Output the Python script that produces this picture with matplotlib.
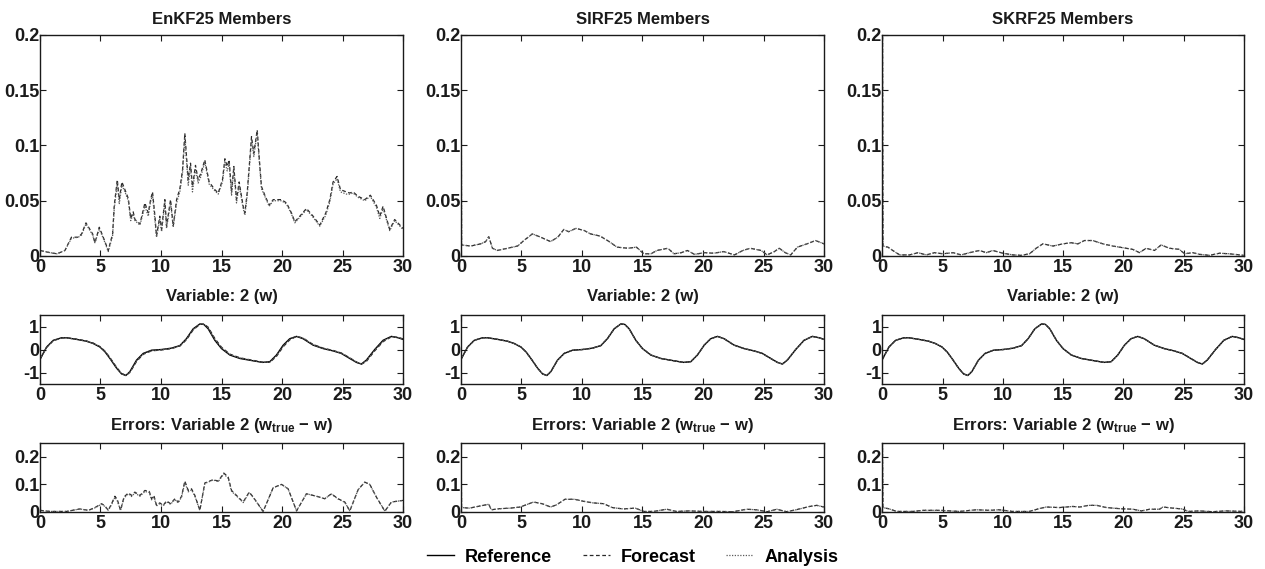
import matplotlib
matplotlib.use('Agg')
import matplotlib.pyplot as plt
from matplotlib.ticker import FormatStrFormatter

plt.rcParams['font.family'] = ['Liberation Sans', 'DejaVu Sans']
plt.rcParams['font.weight'] = 'bold'
plt.rcParams['mathtext.fontset'] = 'custom'
plt.rcParams['mathtext.rm'] = 'Liberation Sans:bold'
plt.rcParams['mathtext.bf'] = 'Liberation Sans:bold'
plt.rcParams['mathtext.default'] = 'rm'

# ---- top row: ensemble members (spread) ----
enkf_t = [0, 0.83, 1.4, 2.06, 2.6, 3.17, 3.44, 3.8, 4.35, 4.54, 4.9, 5.12, 5.37, 5.64,
          6.0, 6.14, 6.39, 6.55, 6.77, 7.02, 7.3, 7.5, 7.7, 7.85, 8.26, 8.67, 8.95,
          9.14, 9.3, 9.5, 9.63, 9.9, 10.05, 10.32, 10.46, 10.79, 11.01, 11.29, 11.56,
          11.78, 11.97, 12.25, 12.44, 12.6, 12.85, 13.07, 13.3, 13.62, 13.98, 14.45,
          14.73, 15.08, 15.28, 15.47, 15.63, 15.83, 16.02, 16.24, 16.46, 16.79, 16.93,
          17.12, 17.29, 17.48, 17.67, 17.95, 18.11, 18.3, 18.58, 18.94, 19.27, 19.96,
          20.37, 20.78, 21.06, 21.47, 22.02, 22.57, 23.12, 23.62, 23.95, 24.22, 24.55,
          24.83, 25.32, 25.6, 25.87, 26.29, 26.84, 27.3, 27.8, 28.08, 28.35, 28.9,
          29.31, 30]
enkf_fc = [0.005, 0.003, 0.002, 0.005, 0.017, 0.017, 0.020, 0.030, 0.020, 0.012, 0.026,
           0.020, 0.013, 0.005, 0.020, 0.046, 0.069, 0.051, 0.067, 0.060, 0.052, 0.034,
           0.040, 0.033, 0.029, 0.048, 0.039, 0.051, 0.058, 0.036, 0.018, 0.036, 0.024,
           0.051, 0.027, 0.051, 0.027, 0.051, 0.061, 0.078, 0.111, 0.069, 0.084, 0.063,
           0.082, 0.069, 0.075, 0.087, 0.067, 0.060, 0.057, 0.069, 0.088, 0.081, 0.087,
           0.058, 0.081, 0.051, 0.067, 0.045, 0.039, 0.057, 0.081, 0.108, 0.093, 0.114,
           0.090, 0.063, 0.055, 0.046, 0.051, 0.051, 0.048, 0.039, 0.031, 0.036, 0.043,
           0.036, 0.028, 0.039, 0.051, 0.067, 0.072, 0.060, 0.058, 0.057, 0.058, 0.054,
           0.051, 0.055, 0.046, 0.036, 0.045, 0.024, 0.033, 0.025]
enkf_an = [0.005, 0.003, 0.002, 0.005, 0.016, 0.017, 0.019, 0.029, 0.019, 0.012, 0.024,
           0.019, 0.012, 0.004, 0.018, 0.043, 0.066, 0.047, 0.064, 0.058, 0.050, 0.032,
           0.038, 0.032, 0.028, 0.045, 0.036, 0.049, 0.055, 0.032, 0.017, 0.033, 0.022,
           0.048, 0.025, 0.048, 0.026, 0.048, 0.058, 0.075, 0.107, 0.064, 0.081, 0.058,
           0.079, 0.066, 0.072, 0.085, 0.065, 0.059, 0.056, 0.067, 0.085, 0.077, 0.084,
           0.055, 0.078, 0.048, 0.064, 0.043, 0.037, 0.054, 0.078, 0.105, 0.090, 0.112,
           0.087, 0.061, 0.054, 0.045, 0.050, 0.050, 0.047, 0.038, 0.030, 0.035, 0.042,
           0.035, 0.027, 0.037, 0.049, 0.065, 0.070, 0.058, 0.056, 0.056, 0.057, 0.053,
           0.050, 0.054, 0.044, 0.034, 0.043, 0.023, 0.032, 0.024]

sirf_t = [0, 0.05, 0.8, 1.63, 2.04, 2.3, 2.6, 3.0, 3.85, 4.68, 5.2, 5.9, 6.6, 7.4, 8.0,
          8.5, 8.9, 9.5, 10.2, 10.7, 11.5, 12.25, 12.9, 13.8, 14.5, 15.1, 15.7, 16.2,
          17.1, 17.6, 18.2, 18.7, 19.3, 20.1, 20.9, 21.7, 22.6, 23.3, 23.9, 24.8, 25.3,
          25.9, 26.3, 26.8, 27.25, 27.8, 28.6, 29.3, 30]
sirf_top = [0.30, 0.010, 0.009, 0.011, 0.013, 0.0175, 0.007, 0.005, 0.007, 0.009, 0.014,
            0.020, 0.017, 0.013, 0.017, 0.024, 0.022, 0.025, 0.023, 0.020, 0.018, 0.013,
            0.008, 0.007, 0.008, 0.002, 0.002, 0.005, 0.007, 0.002, 0.003, 0.005, 0.0015,
            0.003, 0.0025, 0.004, 0.001, 0.005, 0.007, 0.005, 0.001, 0.004, 0.007, 0.003,
            0.001, 0.008, 0.011, 0.014, 0.011]

skrf_t = [0, 0.05, 0.47, 1.0, 1.44, 2.27, 2.96, 3.65, 4.34, 5.03, 5.86, 6.55, 7.24, 8.07,
          8.63, 9.18, 10.0, 10.84, 11.53, 12.22, 12.77, 13.33, 14.16, 14.98, 15.68,
          16.23, 16.78, 17.47, 18.3, 19.13, 19.96, 20.79, 21.34, 21.9, 22.59, 23.14,
          23.83, 24.66, 25.08, 25.77, 26.32, 27.15, 27.98, 28.8, 30]
skrf_top = [0.30, 0.009, 0.008, 0.004, 0.001, 0.001, 0.003, 0.001, 0.003, 0.002, 0.003,
            0.001, 0.003, 0.005, 0.003, 0.005, 0.0025, 0.001, 0.0006, 0.002, 0.007,
            0.011, 0.009, 0.011, 0.012, 0.011, 0.014, 0.014, 0.011, 0.009, 0.0075, 0.006,
            0.003, 0.007, 0.005, 0.010, 0.007, 0.006, 0.002, 0.003, 0.0015, 0.0006,
            0.0025, 0.002, 0.0006]

# ---- middle row: variable 2 (w) ----
w_t = [0, 0.55, 1.1, 1.79, 2.2, 3.03, 3.85, 4.4, 4.95, 5.37, 5.78, 6.33, 6.74, 7.1,
       7.43, 7.98, 8.53, 9.22, 10.05, 10.87, 11.56, 12.1, 12.66, 13.21, 13.54, 13.9,
       14.45, 15.0, 15.69, 16.52, 17.6, 18.4, 18.99, 19.54, 20.1, 20.64, 21.2, 21.74,
       22.57, 23.4, 24.22, 24.9, 25.6, 26.15, 26.56, 26.97, 27.66, 28.35, 29.04, 29.6,
       30]
w_ref = [-0.43, 0.11, 0.40, 0.51, 0.51, 0.44, 0.36, 0.26, 0.11, -0.10, -0.39, -0.81,
         -1.06, -1.13, -0.96, -0.46, -0.17, -0.03, 0.0, 0.06, 0.17, 0.47, 0.90, 1.11,
         1.09, 0.90, 0.40, 0.04, -0.24, -0.39, -0.49, -0.56, -0.53, -0.24, 0.19, 0.47,
         0.57, 0.47, 0.19, 0.04, -0.06, -0.17, -0.39, -0.56, -0.63, -0.46, 0.0, 0.40,
         0.57, 0.51, 0.44]
w_enkf_fc = [-0.43, 0.09, 0.38, 0.50, 0.51, 0.45, 0.37, 0.28, 0.13, -0.07, -0.35, -0.77,
             -1.04, -1.12, -1.00, -0.52, -0.21, -0.06, -0.02, 0.04, 0.15, 0.42, 0.85,
             1.09, 1.11, 0.97, 0.48, 0.10, -0.20, -0.36, -0.47, -0.55, -0.56, -0.30,
             0.12, 0.42, 0.57, 0.50, 0.22, 0.06, -0.04, -0.15, -0.36, -0.54, -0.64,
             -0.52, -0.06, 0.34, 0.55, 0.53, 0.46]
w_enkf_an = [-0.43, 0.10, 0.39, 0.50, 0.51, 0.44, 0.36, 0.27, 0.12, -0.08, -0.37, -0.79,
             -1.05, -1.12, -0.98, -0.49, -0.19, -0.05, -0.01, 0.05, 0.16, 0.44, 0.87,
             1.10, 1.10, 0.94, 0.44, 0.07, -0.22, -0.37, -0.48, -0.55, -0.55, -0.27,
             0.15, 0.44, 0.57, 0.49, 0.21, 0.05, -0.05, -0.16, -0.37, -0.55, -0.63,
             -0.49, -0.03, 0.37, 0.56, 0.52, 0.45]

# ---- bottom row: errors ----
err_enkf_t = [0, 0.83, 2.2, 3.3, 4.0, 4.54, 5.09, 5.37, 5.64, 5.92, 6.19, 6.39, 6.66,
              6.94, 7.3, 7.57, 7.84, 8.26, 8.67, 9.03, 9.22, 9.41, 9.63, 9.9, 10.18,
              10.46, 10.79, 11.15, 11.42, 11.7, 11.97, 12.25, 12.52, 12.8, 13.21, 13.62,
              14.31, 14.73, 15.19, 15.55, 15.83, 16.24, 16.79, 17.29, 17.62, 18.44,
              19.27, 19.96, 20.5, 21.2, 22.02, 22.85, 23.53, 24.08, 24.63, 25.19, 25.6,
              26.29, 26.84, 27.25, 27.8, 28.5, 29.04, 30]
err_enkf_fc = [0.006, 0.002, 0.002, 0.011, 0.006, 0.016, 0.030, 0.022, 0.006, 0.030,
               0.057, 0.045, 0.006, 0.054, 0.069, 0.060, 0.072, 0.060, 0.078, 0.075,
               0.048, 0.060, 0.024, 0.033, 0.024, 0.040, 0.030, 0.048, 0.036, 0.057,
               0.112, 0.078, 0.084, 0.060, 0.006, 0.105, 0.117, 0.112, 0.141, 0.127,
               0.078, 0.060, 0.036, 0.072, 0.054, 0.002, 0.088, 0.100, 0.084, 0.004,
               0.066, 0.057, 0.048, 0.066, 0.048, 0.036, 0.004, 0.081, 0.108, 0.100,
               0.054, 0.003, 0.036, 0.042]
err_enkf_an = [0.006, 0.002, 0.002, 0.011, 0.006, 0.015, 0.028, 0.020, 0.006, 0.027,
               0.053, 0.040, 0.006, 0.050, 0.066, 0.056, 0.069, 0.057, 0.074, 0.071,
               0.044, 0.055, 0.022, 0.030, 0.022, 0.037, 0.028, 0.045, 0.033, 0.054,
               0.107, 0.073, 0.080, 0.057, 0.006, 0.103, 0.116, 0.110, 0.138, 0.122,
               0.075, 0.058, 0.034, 0.070, 0.053, 0.002, 0.088, 0.100, 0.084, 0.004,
               0.066, 0.057, 0.048, 0.065, 0.047, 0.035, 0.004, 0.081, 0.108, 0.100,
               0.054, 0.003, 0.036, 0.042]

err_sirf_t = [0, 0.05, 0.7, 1.6, 2.3, 2.5, 3.2, 4.1, 4.9, 6.0, 6.7, 7.4, 7.9, 8.6, 9.4,
              10.1, 10.9, 11.8, 12.5, 13.4, 14.4, 15.1, 15.9, 17.0, 17.8, 18.9, 20.0,
              21.4, 22.5, 23.6, 24.4, 25.3, 26.1, 26.9, 27.7, 28.8, 29.4, 30]
err_sirf = [0.30, 0.016, 0.014, 0.022, 0.028, 0.008, 0.012, 0.014, 0.018, 0.036, 0.030,
            0.018, 0.026, 0.046, 0.046, 0.039, 0.033, 0.030, 0.016, 0.011, 0.014, 0.002,
            0.002, 0.010, 0.002, 0.004, 0.002, 0.002, 0.001, 0.010, 0.008, 0.001, 0.010,
            0.001, 0.008, 0.020, 0.024, 0.018]

err_skrf_t = [0, 0.05, 0.5, 1.2, 2.5, 3.4, 4.8, 6.4, 7.8, 8.9, 9.7, 10.8, 12.2, 13.0,
              13.6, 14.7, 15.8, 16.4, 17.1, 17.8, 18.6, 19.7, 20.8, 21.5, 22.2, 23.0,
              23.3, 24.1, 24.9, 25.4, 26.3, 27.4, 28.5, 30]
err_skrf = [0.30, 0.016, 0.012, 0.002, 0.002, 0.006, 0.006, 0.002, 0.008, 0.006, 0.008,
            0.002, 0.002, 0.012, 0.018, 0.016, 0.020, 0.018, 0.024, 0.024, 0.016, 0.012,
            0.010, 0.004, 0.010, 0.010, 0.018, 0.014, 0.011, 0.002, 0.004, 0.001, 0.004,
            0.002]

titles = ['EnKF25 Members', 'SIRF25 Members', 'SKRF25 Members']
mid_title = 'Variable: 2 (w)'
err_title = 'Errors: Variable 2 (w$_{\\mathrm{true}}$ \u2212 w)'

top_data = [(enkf_t, enkf_fc, enkf_an), (sirf_t, sirf_top, sirf_top), (skrf_t, skrf_top, skrf_top)]
mid_data = [(w_enkf_fc, w_enkf_an), (w_ref, w_ref), (w_ref, w_ref)]
err_data = [(err_enkf_t, err_enkf_fc, err_enkf_an), (err_sirf_t, err_sirf, err_sirf),
            (err_skrf_t, err_skrf, err_skrf)]

fc_style = dict(color='#2a2a2a', lw=0.9, ls=(0, (3, 2)))
an_style = dict(color='#5a5a5a', lw=0.9, ls=(0, (1, 1.2)))
ref_style = dict(color='black', lw=1.0, ls='-')

fig = plt.figure(figsize=(12.65, 5.69), dpi=100)
lefts = [0.0316, 0.3644, 0.6975]
widths = [0.287, 0.287, 0.2857]
TXT = '#1a1a1a'


def style_axis(ax, yticks, fmt):
    ax.set_xlim(0, 30)
    ax.set_xticks([0, 5, 10, 15, 20, 25, 30])
    ax.set_yticks(yticks)
    ax.yaxis.set_major_formatter(FormatStrFormatter(fmt))
    ax.tick_params(direction='in', top=True, right=True, length=4, width=0.8,
                   labelsize=13, pad=2, colors=TXT)
    ax.tick_params(axis='y', pad=0.5)
    for lab in ax.get_xticklabels() + ax.get_yticklabels():
        lab.set_fontweight('bold')
    for s in ax.spines.values():
        s.set_linewidth(1.0)
        s.set_color(TXT)


for i in range(3):
    # top
    ax = fig.add_axes([lefts[i], 0.5501, widths[i], 0.3884])
    t, fc, an = top_data[i]
    ax.plot(t, fc, **fc_style)
    ax.plot(t, an, **an_style)
    ax.set_ylim(0, 0.2)
    style_axis(ax, [0, 0.05, 0.1, 0.15, 0.2], '%g')
    ax.set_title(titles[i], fontsize=12, fontweight='bold', pad=8, color=TXT)

    # middle
    ax = fig.add_axes([lefts[i], 0.3251, widths[i], 0.1213])
    fc, an = mid_data[i]
    lr, = ax.plot(w_t, w_ref, **ref_style)
    lf, = ax.plot(w_t, fc, **fc_style)
    la, = ax.plot(w_t, an, **an_style)
    ax.set_ylim(-1.5, 1.5)
    style_axis(ax, [-1, 0, 1], '%g')
    ax.set_title(mid_title, fontsize=12, fontweight='bold', pad=10, color=TXT)
    if i == 0:
        handles = [lr, lf, la]

    # bottom
    ax = fig.add_axes([lefts[i], 0.1002, widths[i], 0.1213])
    t, fc, an = err_data[i]
    ax.plot(t, fc, **fc_style)
    ax.plot(t, an, **an_style)
    ax.set_ylim(0, 0.25)
    style_axis(ax, [0, 0.1, 0.2], '%g')
    ax.set_title(err_title, fontsize=12, fontweight='bold', pad=9, color=TXT)

fig.legend(handles, ['Reference', 'Forecast', 'Analysis'], loc='center',
           bbox_to_anchor=(0.5, 0.021), ncol=3, frameon=False,
           handlelength=1.5, columnspacing=1.7, handletextpad=0.6,
           prop={'weight': 'bold', 'size': 13})

fig.savefig('out.png', dpi=100)
